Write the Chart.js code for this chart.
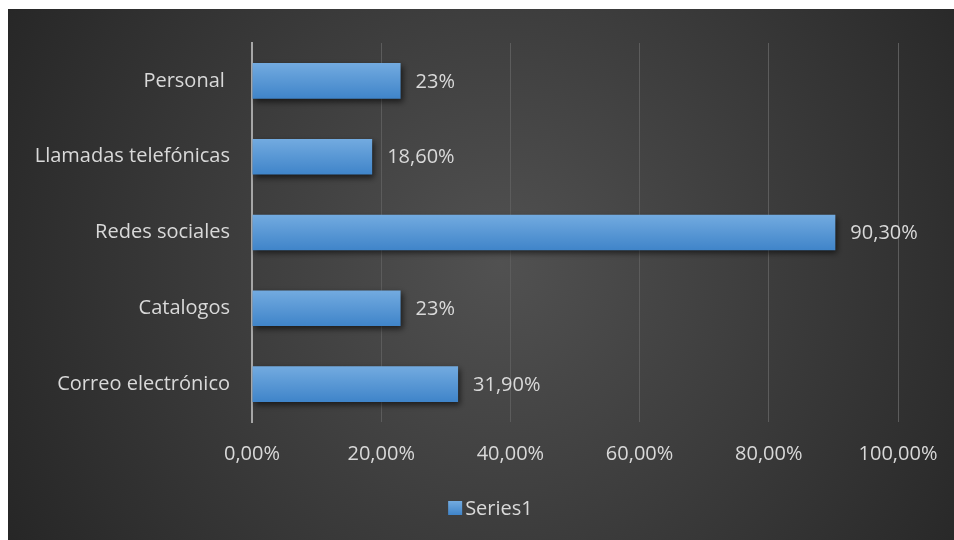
<!doctype html>
<html lang="es">
<head>
    <meta charset="UTF-8">
    <title>Series1</title>
    <script src="https://cdn.jsdelivr.net/npm/chart.js@4.4.0/dist/chart.umd.min.js"></script>
    <style>
        body { margin: 0; background: #fff; }
        #wrap { position: absolute; left: 8px; top: 9px; width: 946px; height: 531px; }
    </style>
</head>
<body>
<div id="wrap"><canvas id="chart"></canvas></div>
<script>
    // datos
    let categorias = ['Personal ', 'Llamadas telefónicas', 'Redes sociales', 'Catalogos', 'Correo electrónico'];
    let valores = [23, 18.6, 90.3, 23, 31.9];
    let etiquetas = ['23%', '18,60%', '90,30%', '23%', '31,90%'];
    let serie = 'Series1';

    let fuente = '"Open Sans", Lato, sans-serif';
    let gris = '#d9d9d9';
    let tam = 20;

    // fondo oscuro con degradado radial
    let fondo = {
        id: 'fondo',
        beforeDraw(chart) {
            let ctx = chart.ctx;
            let w = chart.width, h = chart.height;
            let g = ctx.createRadialGradient(w * 0.52, h * 0.48, 0, w * 0.52, h * 0.48, w * 0.6);
            g.addColorStop(0, '#515151');
            g.addColorStop(1, '#262626');
            ctx.save();
            ctx.fillStyle = g;
            ctx.fillRect(0, 0, w, h);
            ctx.restore();
        }
    };

    // sombra de las barras
    let sombra = {
        id: 'sombra',
        beforeDatasetsDraw(chart) {
            let ctx = chart.ctx;
            ctx.save();
            ctx.shadowColor = 'rgba(0,0,0,0.6)';
            ctx.shadowBlur = 6;
            ctx.shadowOffsetX = 2;
            ctx.shadowOffsetY = 3;
        },
        afterDatasetsDraw(chart) {
            chart.ctx.restore();
        }
    };

    // etiquetas de datos a la derecha de cada barra
    let etiquetasDatos = {
        id: 'etiquetasDatos',
        afterDatasetsDraw(chart) {
            let ctx = chart.ctx;
            let meta = chart.getDatasetMeta(0);
            ctx.save();
            ctx.font = tam + 'px ' + fuente;
            ctx.fillStyle = gris;
            ctx.textAlign = 'left';
            ctx.textBaseline = 'middle';
            meta.data.forEach((bar, i) => {
                ctx.fillText(etiquetas[i], bar.x + 15, bar.y + 1);
            });
            ctx.restore();
        }
    };

    // leyenda abajo, caja pegada al texto como en Excel
    let leyenda = {
        id: 'leyenda',
        afterDraw(chart) {
            let ctx = chart.ctx;
            ctx.save();
            ctx.font = tam + 'px ' + fuente;
            let tw = ctx.measureText(serie).width;
            let total = 14 + 3 + tw;
            let x = chart.width * 0.51 - total / 2;
            let y = chart.height - 32;
            let g = ctx.createLinearGradient(0, y - 7, 0, y + 7);
            g.addColorStop(0, '#73abe0');
            g.addColorStop(1, '#3f84c9');
            ctx.fillStyle = g;
            ctx.fillRect(x, y - 7, 14, 14);
            ctx.fillStyle = gris;
            ctx.textBaseline = 'middle';
            ctx.fillText(serie, x + 17, y + 1);
            ctx.restore();
        }
    };

    function degradado(context) {
        let chart = context.chart;
        let y = chart.scales && chart.scales.y;
        if (!y || context.dataIndex === undefined || !chart.chartArea) return '#5b9bd5';
        let c = y.getPixelForValue(context.dataIndex);
        let g = chart.ctx.createLinearGradient(0, c - 18, 0, c + 18);
        g.addColorStop(0, '#73abe0');
        g.addColorStop(1, '#3f84c9');
        return g;
    }

    new Chart(document.getElementById('chart'), {
        type: 'bar',
        data: {
            labels: categorias,
            datasets: [{
                label: serie,
                data: valores,
                backgroundColor: degradado,
                borderWidth: 0,
                categoryPercentage: 0.94,
                barPercentage: 0.5
            }]
        },
        options: {
            indexAxis: 'y',
            responsive: true,
            maintainAspectRatio: false,
            animation: false,
            layout: { padding: { top: 30, right: 56, left: 0, bottom: 51 } },
            scales: {
                x: {
                    min: 0,
                    max: 100,
                    ticks: {
                        stepSize: 20,
                        color: gris,
                        font: { family: fuente, size: tam },
                        padding: 20,
                        callback: v => v.toFixed(2).replace('.', ',') + '%'
                    },
                    grid: { color: '#5c5c5c', lineWidth: 1, drawTicks: false },
                    border: { display: false },
                    afterFit(scale) {
                        scale.height = 67;
                        scale.paddingLeft = 0;
                        scale.paddingRight = 0;
                    }
                },
                y: {
                    ticks: {
                        color: gris,
                        font: { family: fuente, size: tam },
                        padding: 22
                    },
                    grid: { display: false, drawTicks: false },
                    border: { color: '#a6a6a6', width: 2 },
                    afterFit(scale) { scale.width = 244; }
                }
            },
            plugins: {
                legend: { display: false },
                tooltip: { enabled: false }
            }
        },
        plugins: [fondo, sombra, etiquetasDatos, leyenda]
    });
</script>
</body>
</html>
